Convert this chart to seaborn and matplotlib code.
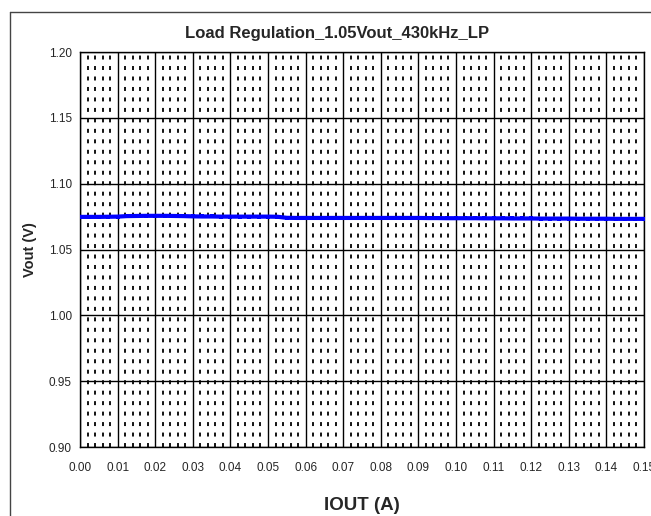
import matplotlib
matplotlib.use("Agg")
import matplotlib.pyplot as plt
import seaborn as sns
import pandas as pd
import numpy as np
from matplotlib.lines import Line2D
from matplotlib.ticker import MultipleLocator

# load regulation readings (A, V)
iout = [0.0000, 0.0025, 0.0050, 0.0075, 0.0100, 0.0125, 0.0150, 0.0175, 0.0200, 0.0225,
        0.0250, 0.0275, 0.0300, 0.0325, 0.0350, 0.0375, 0.0400, 0.0425, 0.0450, 0.0475,
        0.0500, 0.0525, 0.0550, 0.0575, 0.0600, 0.0625, 0.0650, 0.0675, 0.0700, 0.0725,
        0.0750, 0.0775, 0.0800, 0.0825, 0.0850, 0.0875, 0.0900, 0.0925, 0.0950, 0.0975,
        0.1000, 0.1025, 0.1050, 0.1075, 0.1100, 0.1125, 0.1150, 0.1175, 0.1200, 0.1225,
        0.1250, 0.1275, 0.1300, 0.1325, 0.1350, 0.1375, 0.1400, 0.1425, 0.1450, 0.1475,
        0.1500]
vout = [1.0748, 1.0748, 1.0748, 1.0749, 1.0750, 1.0754, 1.0755, 1.0756, 1.0756, 1.0756,
        1.0755, 1.0754, 1.0752, 1.0751, 1.0751, 1.0750, 1.0750, 1.0750, 1.0750, 1.0750,
        1.0750, 1.0749, 1.0741, 1.0740, 1.0740, 1.0740, 1.0740, 1.0740, 1.0740, 1.0740,
        1.0740, 1.0740, 1.0740, 1.0740, 1.0740, 1.0740, 1.0740, 1.0739, 1.0739, 1.0738,
        1.0738, 1.0738, 1.0738, 1.0737, 1.0737, 1.0737, 1.0736, 1.0736, 1.0736, 1.0735,
        1.0735, 1.0735, 1.0735, 1.0734, 1.0734, 1.0734, 1.0734, 1.0733, 1.0733, 1.0733,
        1.0733]

xticks = [0.00, 0.01, 0.02, 0.03, 0.04, 0.05, 0.06, 0.07, 0.08, 0.09,
          0.10, 0.11, 0.12, 0.13, 0.14, 0.15]
yticks = [0.90, 0.95, 1.00, 1.05, 1.10, 1.15, 1.20]


def main():
    sns.set_style("white")
    plt.rcParams['font.family'] = ['Liberation Sans', 'DejaVu Sans']

    df = pd.DataFrame({'IOUT (A)': iout, 'Vout (V)': vout})

    fig = plt.figure(figsize=(6.51, 5.16), dpi=100)
    ax = fig.add_axes([0.1229, 0.1337, 0.8663, 0.7654])

    sns.lineplot(data=df, x='IOUT (A)', y='Vout (V)', ax=ax, color='#0000ff',
                 linewidth=3.0, marker='s', markersize=3, markeredgewidth=0,
                 zorder=5)

    ax.set_xlim(0, 0.15)
    ax.set_ylim(0.90, 1.20)
    ax.set_xticks(xticks)
    ax.set_xticklabels([f"{t:.2f}" for t in xticks], fontsize=8.5)
    ax.set_yticks(yticks)
    ax.set_yticklabels([f"{t:.2f}" for t in yticks], fontsize=8.5)
    ax.xaxis.set_minor_locator(MultipleLocator(0.002))

    ax.grid(True, which='major', color='black', linewidth=1.0)
    ax.grid(True, which='minor', axis='x', color='black', linewidth=1.3,
            linestyle=(0, (2.2, 3.6)), dash_capstyle='butt')
    ax.tick_params(axis='x', which='major', direction='out', length=4,
                   width=1, color='black', pad=7)
    ax.tick_params(axis='x', which='minor', length=0)
    ax.tick_params(axis='y', length=0, pad=6)
    for s in ax.spines.values():
        s.set_color('black')
        s.set_linewidth(1.0)

    # title is centred on the whole chart area, not the plot area
    ax.set_title('Load Regulation_1.05Vout_430kHz_LP', fontsize=12,
                 fontweight='bold', pad=10, x=0.455)
    ax.set_xlabel('IOUT (A)', fontsize=13.5, fontweight='bold', labelpad=16)
    ax.set_ylabel('Vout (V)', fontsize=10.5, fontweight='bold', labelpad=8)

    # outer chart frame
    fig.add_artist(Line2D([0.0154, 0.0154], [0.0, 0.977], color='#444444',
                          linewidth=1.0, transform=fig.transFigure))
    fig.add_artist(Line2D([0.0154, 1.0], [0.977, 0.977], color='#444444',
                          linewidth=1.0, transform=fig.transFigure))

    plt.savefig("out.png", dpi=100)


if __name__ == "__main__":
    main()
